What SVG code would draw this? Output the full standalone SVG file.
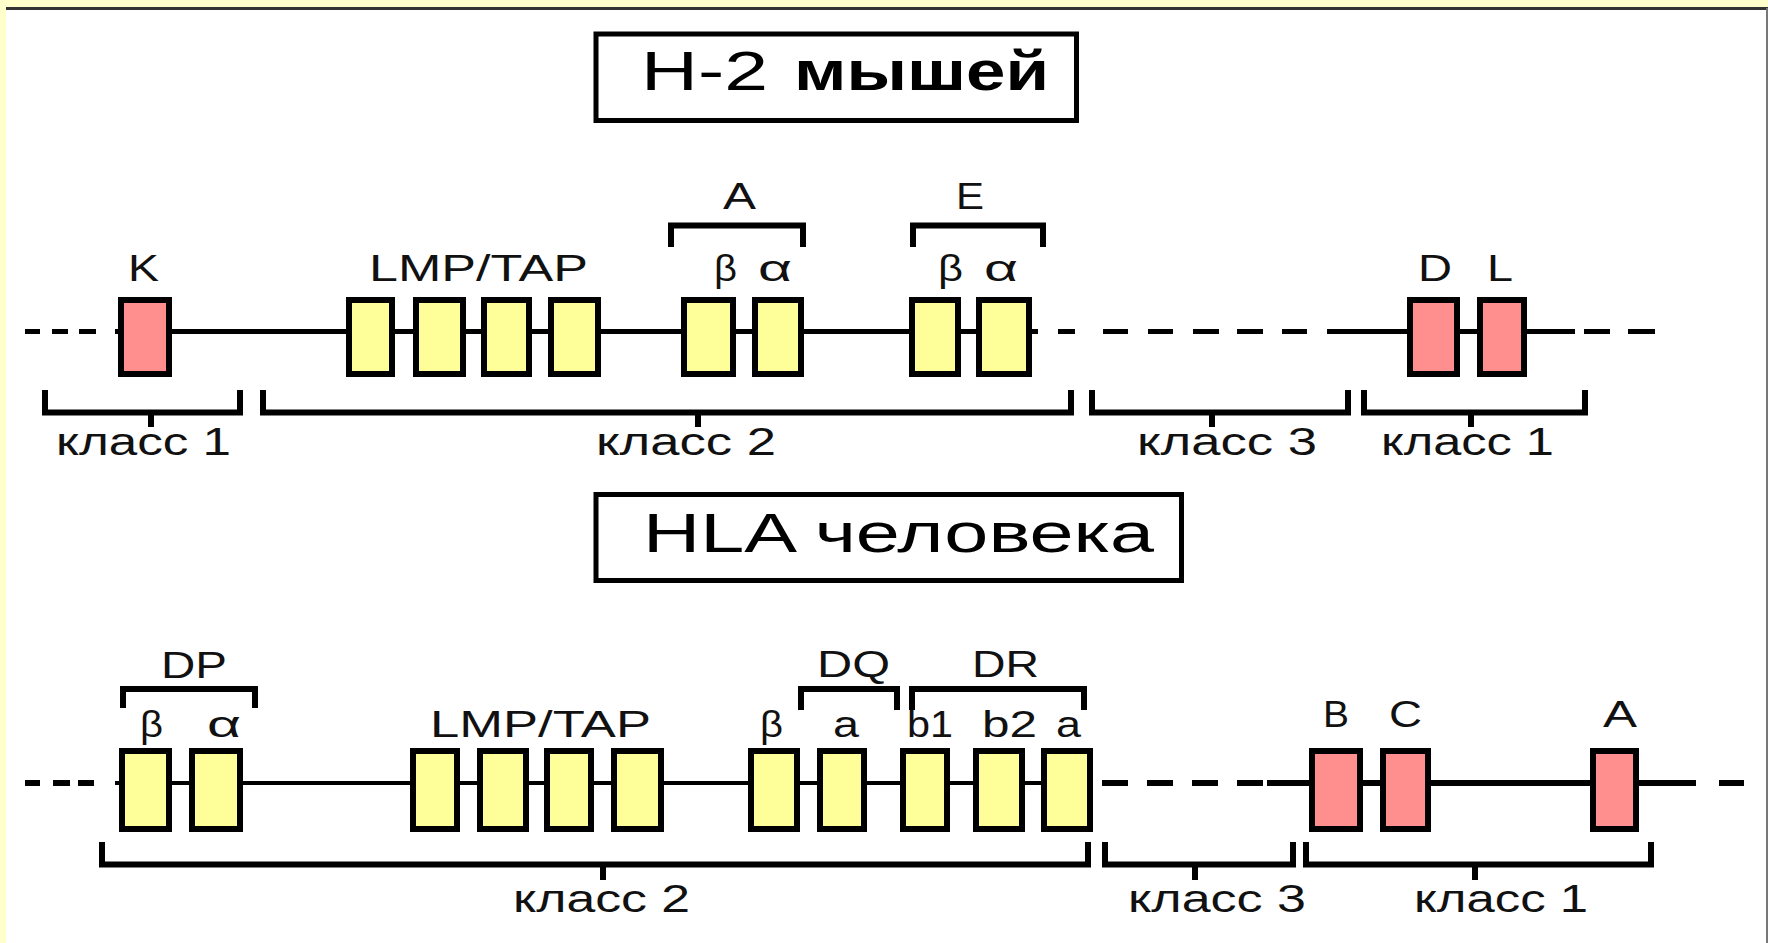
<svg xmlns="http://www.w3.org/2000/svg" width="1768" height="943" viewBox="0 0 1768 943">
<style>
.gene{stroke:#000;stroke-width:6}
.c1{fill:#FF8F8F}
.c2{fill:#FFFF99}
.br{fill:none;stroke:#000;stroke-width:6;stroke-linejoin:miter}
.t{font-family:"Liberation Sans",Arial,sans-serif;fill:#111}
.lbl{font-size:36px}
.cls{font-size:38px}
.ttl{fill:none;stroke:#000;stroke-width:5}
.tt{font-size:56px;fill:#000}
.chr{stroke:#000;fill:none}
</style>
<rect x="0" y="0" width="1768" height="943" fill="#FFFFCC"/>
<rect x="6" y="8" width="1762" height="935" fill="#FFFFFF"/>
<line x1="6" y1="8.5" x2="1768" y2="8.5" stroke="#333" stroke-width="3"/>
<line x1="1767" y1="8" x2="1767" y2="943" stroke="#777" stroke-width="2"/>

<g id="connectors">
  <path class="chr" stroke-width="5" d="M25 331.5H40M52 331.5H68M79 331.5H96M115 331.5H1038M1058 331.5H1075M1103 331.5H1128M1148 331.5H1173M1193 331.5H1219M1237 331.5H1263M1282 331.5H1307M1327 331.5H1575M1584 331.5H1610M1628 331.5H1655"/>
  <path class="chr" stroke-width="6" d="M25 783H40M53 783H70M78 783H94"/>
  <path class="chr" stroke-width="4" d="M115 783H1093"/>
  <path class="chr" stroke-width="6" d="M1102 783H1128M1147 783H1173M1192 783H1218M1237 783H1263M1267 783H1696M1719 783H1744"/>
</g>

<g id="title-h2">
  <rect class="ttl" x="596" y="34" width="480.5" height="86.5"/>
  <text class="t tt" x="641" y="90" textLength="127" lengthAdjust="spacingAndGlyphs">H-2</text>
  <text class="t tt" x="794" y="90" font-weight="bold" textLength="255" lengthAdjust="spacingAndGlyphs">мышей</text>
</g>

<g id="h2-K">
  <rect class="gene c1" x="121" y="300" width="48" height="74"/>
  <text class="t lbl" x="128" y="281" textLength="31" lengthAdjust="spacingAndGlyphs">K</text>
</g>
<g id="h2-LMP-TAP">
  <rect class="gene c2" x="349" y="300" width="43" height="74"/>
  <rect class="gene c2" x="416" y="300" width="47" height="74"/>
  <rect class="gene c2" x="484" y="300" width="45" height="74"/>
  <rect class="gene c2" x="551" y="300" width="47" height="74"/>
  <text class="t lbl" x="369" y="281" textLength="219" lengthAdjust="spacingAndGlyphs">LMP/TAP</text>
</g>
<g id="h2-A">
  <path class="br" d="M671 247V225.5H803V247"/>
  <text class="t lbl" x="723" y="209" textLength="33" lengthAdjust="spacingAndGlyphs">A</text>
  <rect class="gene c2" x="684" y="300" width="49" height="74"/>
  <rect class="gene c2" x="755" y="300" width="46" height="74"/>
  <text class="t lbl" x="714" y="281" textLength="23" lengthAdjust="spacingAndGlyphs">β</text>
  <text class="t lbl" x="758" y="281" textLength="34" lengthAdjust="spacingAndGlyphs">α</text>
</g>
<g id="h2-E">
  <path class="br" d="M913 247V225.5H1043V247"/>
  <text class="t lbl" x="956" y="209" textLength="28" lengthAdjust="spacingAndGlyphs">E</text>
  <rect class="gene c2" x="912" y="300" width="46" height="74"/>
  <rect class="gene c2" x="979" y="300" width="50" height="74"/>
  <text class="t lbl" x="938" y="281" textLength="25" lengthAdjust="spacingAndGlyphs">β</text>
  <text class="t lbl" x="984" y="281" textLength="34" lengthAdjust="spacingAndGlyphs">α</text>
</g>
<g id="h2-D">
  <rect class="gene c1" x="1410" y="300" width="47" height="74"/>
  <text class="t lbl" x="1418" y="281" textLength="34" lengthAdjust="spacingAndGlyphs">D</text>
</g>
<g id="h2-L">
  <rect class="gene c1" x="1480" y="300" width="44" height="74"/>
  <text class="t lbl" x="1487" y="281" textLength="26" lengthAdjust="spacingAndGlyphs">L</text>
</g>

<g id="h2-class1a">
  <path class="br" d="M45 390V412.5H240V390M151 412.5V427"/>
  <text class="t cls" x="56" y="455" textLength="175" lengthAdjust="spacingAndGlyphs">класс 1</text>
</g>
<g id="h2-class2">
  <path class="br" d="M263 390V412.5H1071V390M698 412.5V427"/>
  <text class="t cls" x="596" y="455" textLength="180" lengthAdjust="spacingAndGlyphs">класс 2</text>
</g>
<g id="h2-class3">
  <path class="br" d="M1092 390V412.5H1348V390M1212 412.5V427"/>
  <text class="t cls" x="1137" y="455" textLength="180" lengthAdjust="spacingAndGlyphs">класс 3</text>
</g>
<g id="h2-class1b">
  <path class="br" d="M1364 390V412.5H1585V390M1471 412.5V427"/>
  <text class="t cls" x="1381" y="455" textLength="173" lengthAdjust="spacingAndGlyphs">класс 1</text>
</g>

<g id="title-hla">
  <rect class="ttl" x="596" y="494.5" width="585.5" height="86"/>
  <text class="t tt" x="643" y="552" font-size="55" textLength="511" lengthAdjust="spacingAndGlyphs">HLA человека</text>
</g>

<g id="hla-DP">
  <path class="br" d="M123 708V689H255V708"/>
  <text class="t lbl" x="161" y="678" textLength="66" lengthAdjust="spacingAndGlyphs">DP</text>
  <rect class="gene c2" x="122" y="751" width="47" height="78"/>
  <rect class="gene c2" x="192" y="751" width="48" height="78"/>
  <text class="t lbl" x="140" y="737" textLength="23" lengthAdjust="spacingAndGlyphs">β</text>
  <text class="t lbl" x="207" y="737" textLength="34" lengthAdjust="spacingAndGlyphs">α</text>
</g>
<g id="hla-LMP-TAP">
  <rect class="gene c2" x="413" y="751" width="44" height="78"/>
  <rect class="gene c2" x="480" y="751" width="46" height="78"/>
  <rect class="gene c2" x="547" y="751" width="44" height="78"/>
  <rect class="gene c2" x="614" y="751" width="47" height="78"/>
  <text class="t lbl" x="430" y="737" textLength="221" lengthAdjust="spacingAndGlyphs">LMP/TAP</text>
</g>
<g id="hla-DQ">
  <path class="br" d="M801 710V689H897V710"/>
  <text class="t lbl" x="817" y="677" textLength="73" lengthAdjust="spacingAndGlyphs">DQ</text>
  <rect class="gene c2" x="751" y="751" width="46" height="78"/>
  <rect class="gene c2" x="820" y="751" width="44" height="78"/>
  <text class="t lbl" x="760" y="737" textLength="23" lengthAdjust="spacingAndGlyphs">β</text>
  <text class="t lbl" x="833" y="737" textLength="26" lengthAdjust="spacingAndGlyphs">a</text>
</g>
<g id="hla-DR">
  <path class="br" d="M912 710V689H1084V710"/>
  <text class="t lbl" x="972" y="677" textLength="67" lengthAdjust="spacingAndGlyphs">DR</text>
  <rect class="gene c2" x="903" y="751" width="44" height="78"/>
  <rect class="gene c2" x="976" y="751" width="46" height="78"/>
  <rect class="gene c2" x="1044" y="751" width="46" height="78"/>
  <text class="t lbl" x="907" y="737" textLength="46" lengthAdjust="spacingAndGlyphs">b1</text>
  <text class="t lbl" x="982" y="737" textLength="55" lengthAdjust="spacingAndGlyphs">b2</text>
  <text class="t lbl" x="1056" y="737" textLength="25" lengthAdjust="spacingAndGlyphs">a</text>
</g>
<g id="hla-B">
  <rect class="gene c1" x="1312" y="751" width="48" height="78"/>
  <text class="t lbl" x="1323" y="727" textLength="26" lengthAdjust="spacingAndGlyphs">B</text>
</g>
<g id="hla-C">
  <rect class="gene c1" x="1383" y="751" width="45" height="78"/>
  <text class="t lbl" x="1389" y="727" textLength="33" lengthAdjust="spacingAndGlyphs">C</text>
</g>
<g id="hla-A">
  <rect class="gene c1" x="1593" y="751" width="43" height="78"/>
  <text class="t lbl" x="1603" y="727" textLength="34" lengthAdjust="spacingAndGlyphs">A</text>
</g>

<g id="hla-class2">
  <path class="br" d="M102 842V864.5H1088V842M603 864.5V880"/>
  <text class="t cls" x="513" y="912" textLength="177" lengthAdjust="spacingAndGlyphs">класс 2</text>
</g>
<g id="hla-class3">
  <path class="br" d="M1105 842V864.5H1293V842M1195 864.5V880"/>
  <text class="t cls" x="1128" y="912" textLength="178" lengthAdjust="spacingAndGlyphs">класс 3</text>
</g>
<g id="hla-class1">
  <path class="br" d="M1306 842V864.5H1651V842M1475 864.5V880"/>
  <text class="t cls" x="1414" y="912" textLength="174" lengthAdjust="spacingAndGlyphs">класс 1</text>
</g>
</svg>
